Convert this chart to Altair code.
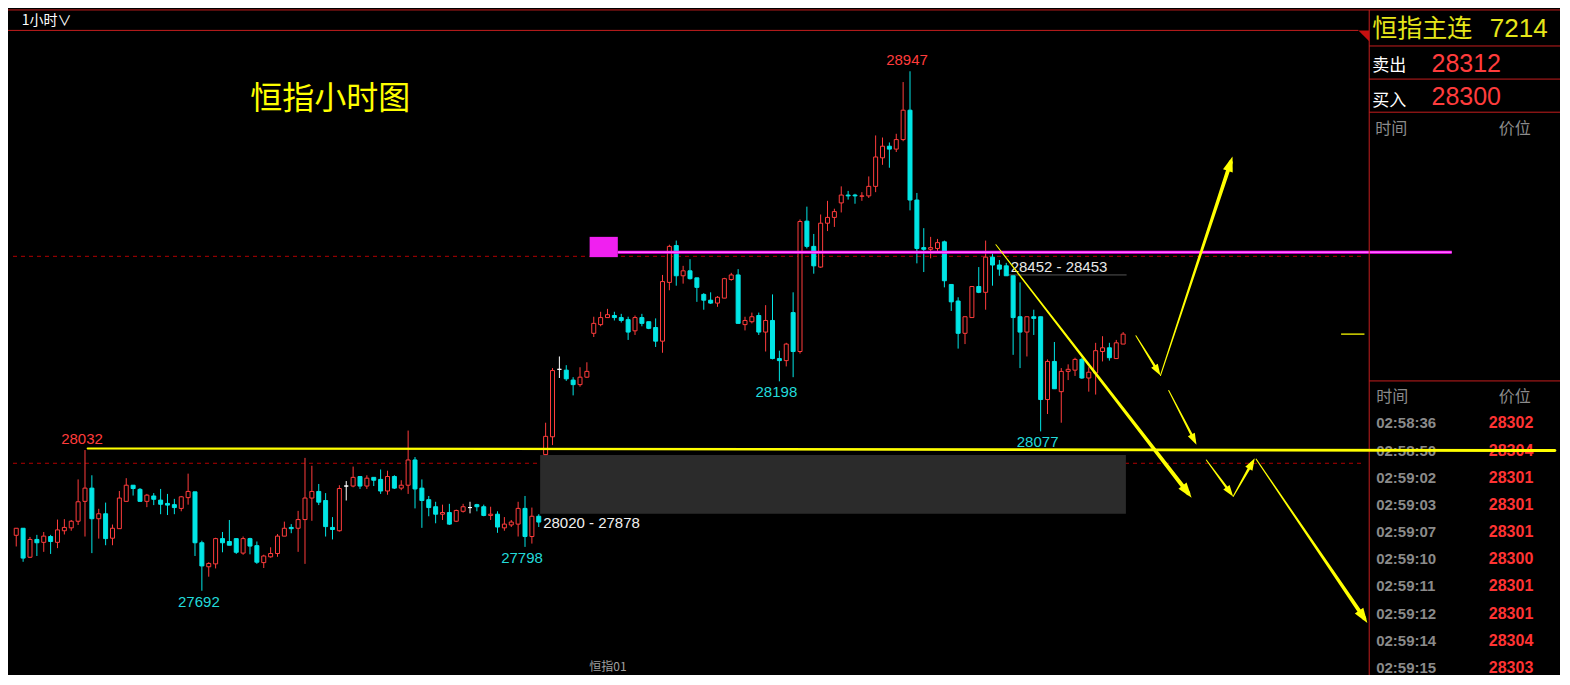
import altair as alt
import pandas as pd

W, H = 1552, 667
SX, SY = W / 1570.0, H / 685.0


def px(v):
    return v * SX


def py(v):
    return v * SY


# ---------------- hourly candles ----------------
opens = [27826, 27843, 27773, 27816, 27809, 27823, 27809, 27837, 27844, 27860,
         27908, 27940, 27866, 27878, 27819, 27842, 27908, 27947, 27937, 27908,
         27921, 27911, 27903, 27900, 27891, 27917, 27931, 27808, 27750, 27757,
         27818, 27811, 27818, 27783, 27818, 27801, 27760, 27774, 27782, 27824,
         27845, 27843, 27864, 27916, 27932, 27910, 27845, 27837, 27945, 27945,
         27968, 27945, 27966, 27961, 27933, 27968, 27940, 27947, 28008, 27940,
         27912, 27895, 27877, 27881, 27860, 27884, 27893, 27900, 27895, 27874,
         27877, 27844, 27851, 27853, 27891, 27823, 27872, 28021, 28064, 28227,
         28225, 28201, 28190, 28208, 28314, 28335, 28352, 28357, 28352, 28347,
         28320, 28352, 28342, 28328, 28295, 28437, 28526, 28453, 28465, 28448,
         28408, 28394, 28387, 28399, 28444, 28455, 28335, 28342, 28357, 28317,
         28345, 28253, 28248, 28364, 28270, 28585, 28524, 28474, 28580, 28594,
         28629, 28648, 28648, 28645, 28646, 28669, 28738, 28766, 28759, 28782,
         28853, 28636, 28521, 28517, 28519, 28535, 28432, 28392, 28314, 28352,
         28427, 28413, 28498, 28479, 28477, 28453, 28354, 28317, 28354, 28354,
         28154, 28246, 28173, 28222, 28225, 28251, 28206, 28218, 28270, 28279,
         28253, 28288]
highs = [27843, 27843, 27822, 27827, 27834, 27827, 27864, 27865, 27863, 27961,
         28032, 27971, 27890, 27905, 27852, 27933, 27964, 27947, 27940, 27926,
         27928, 27938, 27926, 27914, 27921, 27975, 27931, 27813, 27761, 27820,
         27834, 27863, 27818, 27823, 27820, 27811, 27779, 27797, 27829, 27859,
         27853, 27885, 28013, 27994, 27950, 27928, 27870, 27947, 27957, 27992,
         27968, 27971, 27966, 27985, 27982, 27971, 27959, 28079, 28015, 27961,
         27921, 27907, 27900, 27902, 27888, 27902, 27907, 27902, 27900, 27895,
         27884, 27870, 27863, 27907, 27921, 27893, 27877, 28098, 28230, 28258,
         28237, 28208, 28232, 28244, 28354, 28366, 28373, 28366, 28361, 28354,
         28357, 28361, 28342, 28350, 28455, 28528, 28538, 28477, 28493, 28448,
         28411, 28413, 28404, 28448, 28460, 28469, 28354, 28364, 28364, 28382,
         28408, 28272, 28291, 28413, 28589, 28620, 28554, 28601, 28634, 28615,
         28669, 28658, 28651, 28655, 28693, 28792, 28787, 28775, 28796, 28921,
         28947, 28653, 28568, 28547, 28542, 28538, 28432, 28401, 28354, 28427,
         28474, 28538, 28507, 28491, 28484, 28453, 28437, 28354, 28371, 28354,
         28251, 28293, 28230, 28239, 28255, 28255, 28232, 28291, 28307, 28291,
         28298, 28317]
lows = [27799, 27762, 27771, 27776, 27786, 27781, 27795, 27828, 27837, 27851,
        27823, 27783, 27818, 27802, 27802, 27842, 27908, 27922, 27908, 27894,
        27899, 27877, 27875, 27877, 27884, 27900, 27776, 27692, 27726, 27746,
        27785, 27802, 27781, 27779, 27780, 27757, 27747, 27772, 27774, 27824,
        27831, 27786, 27757, 27861, 27899, 27823, 27816, 27835, 27910, 27942,
        27938, 27938, 27945, 27926, 27924, 27938, 27935, 27926, 27891, 27844,
        27872, 27855, 27863, 27851, 27858, 27881, 27879, 27884, 27872, 27863,
        27832, 27837, 27846, 27823, 27798, 27806, 27846, 28021, 28044, 28206,
        28199, 28164, 28185, 28206, 28305, 28331, 28352, 28345, 28340, 28298,
        28310, 28331, 28324, 28281, 28267, 28418, 28429, 28434, 28444, 28390,
        28371, 28385, 28378, 28399, 28441, 28338, 28321, 28338, 28310, 28270,
        28251, 28198, 28234, 28208, 28265, 28519, 28458, 28472, 28561, 28571,
        28606, 28637, 28627, 28634, 28641, 28655, 28721, 28714, 28752, 28778,
        28611, 28483, 28462, 28495, 28509, 28425, 28368, 28277, 28288, 28352,
        28411, 28371, 28429, 28453, 28453, 28262, 28230, 28258, 28310, 28077,
        28119, 28180, 28098, 28201, 28211, 28204, 28173, 28166, 28246, 28248,
        28253, 28288]
closes = [27843, 27771, 27816, 27808, 27824, 27811, 27839, 27845, 27860, 27907,
          27940, 27866, 27878, 27818, 27843, 27916, 27947, 27939, 27908, 27923,
          27913, 27901, 27899, 27893, 27919, 27932, 27808, 27752, 27758, 27818,
          27808, 27802, 27785, 27818, 27800, 27761, 27776, 27782, 27824, 27843,
          27842, 27864, 27916, 27932, 27906, 27847, 27840, 27939, 27945, 27966,
          27945, 27964, 27959, 27933, 27968, 27940, 27947, 28008, 27938, 27910,
          27893, 27877, 27881, 27853, 27886, 27895, 27893, 27895, 27874, 27877,
          27846, 27853, 27858, 27891, 27823, 27872, 27858, 28065, 28224, 28227,
          28204, 28190, 28208, 28222, 28338, 28352, 28359, 28352, 28345, 28317,
          28352, 28338, 28326, 28295, 28439, 28524, 28453, 28465, 28446, 28425,
          28394, 28387, 28401, 28446, 28455, 28338, 28345, 28354, 28317, 28345,
          28253, 28248, 28288, 28270, 28584, 28524, 28477, 28580, 28594, 28608,
          28648, 28646, 28646, 28646, 28669, 28740, 28766, 28759, 28782, 28853,
          28636, 28519, 28517, 28521, 28533, 28441, 28390, 28314, 28354, 28427,
          28413, 28498, 28479, 28469, 28453, 28352, 28317, 28354, 28350, 28154,
          28246, 28180, 28222, 28227, 28251, 28206, 28220, 28272, 28279, 28255,
          28291, 28312]

# ---------------- annotations ----------------
dash_levels = [28500, 28000]
zone_top, zone_bottom = 28020, 27878
zone_label = "28020 - 27878"
resist_level = 28455
resist_label = "28452 - 28453"
magenta_level = 28510
magenta_box = [28547, 28498]
trend_i = [10.39, 223.8]
trend_p = [28036, 28031]

label_i = [130, 10, 27, 74, 111, 149]
label_text = ["28947", "28032", "27692", "27798", "28198", "28077"]
label_side = ["high", "high", "low", "low", "low", "low"]

arrow_seg = ["A", "A", "B1", "B1", "B2", "B2", "C", "C", "D1", "D1", "D2", "D2", "E", "E"]
arrow_i = [142.5, 170.44, 162.86, 165.99, 166.43, 176.64, 167.63, 171.29,
           173.1, 176.5, 177.0, 179.73, 180.34, 196.06]
arrow_p = [28528, 27928, 28308, 28224, 28212, 28727, 28176, 28058,
           28008, 27931, 27920, 28000, 28010, 27626]
arrow_w = [1, 4.2, 1, 2.6, 1, 4, 1, 2.6, 1, 2.6, 1, 3, 1, 4]
head_i = [170.96, 166.43, 176.91, 171.67, 177.0, 180.14, 196.53]
head_p = [27917, 28212, 28741, 28045, 27920, 28012, 27614]
head_angle = [142.6, 148.4, 18.1, 153.0, 143.9, 29.2, 146.1]
head_size = [900, 520, 900, 520, 520, 580, 900]

# side panel
contract_name = "恒指主连"
contract_vol = "7214"
quote_names = ["卖出", "买入"]
quote_prices = ["28312", "28300"]
tick_times = ["02:58:36", "02:58:50", "02:59:02", "02:59:03", "02:59:07",
              "02:59:10", "02:59:11", "02:59:12", "02:59:14", "02:59:15"]
tick_prices = ["28302", "28304", "28301", "28301", "28301",
               "28300", "28301", "28301", "28304", "28303"]
last_price = 28312

# ---------------- styles ----------------
RED = "#ff3c3c"
CYAN = "#00e5e5"
WHITE = "#ffffff"
YELLOW = "#ffff00"
BORDER = "#c41e1e"
CJK = "Noto Sans CJK SC"
NUM = "Liberation Sans"

xs = alt.Scale(domain=[-0.4714, 223.814], nice=False, zero=False)
ys = alt.Scale(domain=[27488.5, 29099.9], nice=False, zero=False)


def X(f):
    return alt.X(f, type="quantitative", scale=xs, axis=None)


def Y(f):
    return alt.Y(f, type="quantitative", scale=ys, axis=None)


one = pd.DataFrame({"a": [0]})
layers = []

# dashed level lines
dash_df = pd.DataFrame({"p": dash_levels, "x0": -0.47, "x1": 196.1})
layers.append(alt.Chart(dash_df).mark_rule(color="#b00000", strokeWidth=1, strokeDash=[4, 4]).encode(
    x=X("x0"), x2="x1", y=Y("p")))

# grey zone
zone_df = pd.DataFrame({"x0": [76.2], "x1": [161.4], "p0": [zone_top], "p1": [zone_bottom]})
layers.append(alt.Chart(zone_df).mark_rect(color="#2b2b2b").encode(
    x=X("x0"), x2="x1", y=Y("p0"), y2="p1"))

# resistance label line
res_df = pd.DataFrame({"x0": [144.2], "x1": [161.5], "p": [resist_level], "t": [resist_label]})
layers.append(alt.Chart(res_df).mark_rule(color="#555555", strokeWidth=1).encode(
    x=X("x0"), x2="x1", y=Y("p")))

# candles
n = len(opens)
df = pd.DataFrame({"i": list(range(n)), "o": opens, "h": highs, "l": lows, "c": closes})
df["kind"] = ["up" if c > o else ("down" if c < o else "flat") for o, c in zip(opens, closes)]
kinds = ["up", "down", "flat"]
layers.append(alt.Chart(df).mark_rule(strokeWidth=1).encode(
    x=X("i"), y=Y("l"), y2="h",
    color=alt.Color("kind:N", scale=alt.Scale(domain=kinds, range=[RED, CYAN, WHITE]), legend=None)))
layers.append(alt.Chart(df).mark_bar(size=4, strokeWidth=1).encode(
    x=X("i"), y=Y("o"), y2="c",
    fill=alt.Fill("kind:N", scale=alt.Scale(domain=kinds, range=["#000000", CYAN, WHITE]), legend=None),
    stroke=alt.Stroke("kind:N", scale=alt.Scale(domain=kinds, range=[RED, CYAN, WHITE]), legend=None)))

# magenta box + line
mag_df = pd.DataFrame({"x0": [83.4], "x1": [87.5], "p0": [magenta_box[0]], "p1": [magenta_box[1]]})
layers.append(alt.Chart(mag_df).mark_rect(color="#f020f0").encode(x=X("x0"), x2="x1", y=Y("p0"), y2="p1"))
magl_df = pd.DataFrame({"x0": [87.5], "x1": [208.8], "p": [magenta_level]})
layers.append(alt.Chart(magl_df).mark_rule(color="#ff00ff", strokeWidth=3).encode(x=X("x0"), x2="x1", y=Y("p")))
layers.append(alt.Chart(magl_df).mark_rule(color="#ffc8ff", strokeWidth=0.8).encode(x=X("x0"), x2="x1", y=Y("p")))

# price labels at extremes
lab = pd.DataFrame({"i": label_i, "t": label_text, "side": label_side})
lab["p"] = [highs[i] if s == "high" else lows[i] for i, s in zip(label_i, label_side)]
layers.append(alt.Chart(lab[lab.side == "high"]).mark_text(
    font=NUM, fontSize=15, color=RED, dy=-11, dx=-3).encode(x=X("i"), y=Y("p"), text="t:N"))
layers.append(alt.Chart(lab[lab.side == "low"]).mark_text(
    font=NUM, fontSize=15, color="#22dada", dy=11, dx=-3).encode(x=X("i"), y=Y("p"), text="t:N"))

# range labels
zl_df = pd.DataFrame({"x": [76.2], "p": [zone_bottom], "t": [zone_label]})
layers.append(alt.Chart(zl_df).mark_text(font=NUM, fontSize=15, color="#f0f0f0", align="left", dx=3, dy=9).encode(
    x=X("x"), y=Y("p"), text="t:N"))
layers.append(alt.Chart(res_df).mark_text(font=NUM, fontSize=15, color="#e8e8e8", align="left", dx=3, dy=-8).encode(
    x=X("x0"), y=Y("p"), text="t:N"))

# current price marker
cur_df = pd.DataFrame({"x0": [192.7], "x1": [196.1], "p": [last_price]})
layers.append(alt.Chart(cur_df).mark_rule(color="#d8d800", strokeWidth=1.5).encode(x=X("x0"), x2="x1", y=Y("p")))


# ---------------- frame / header / side panel ----------------
def rule_px(x0, x1, y0, y1, color=BORDER, width=1):
    return alt.Chart(one).mark_rule(color=color, strokeWidth=width).encode(
        x=alt.value(px(x0)), x2=alt.value(px(x1)), y=alt.value(py(y0)), y2=alt.value(py(y1)))


def text_px(t, x, y, size, color, font=CJK, weight="normal", align="left", baseline="middle"):
    return alt.Chart(pd.DataFrame({"t": [t]})).mark_text(
        font=font, fontSize=size, color=color, fontWeight=weight, align=align, baseline=baseline).encode(
        x=alt.value(px(x)), y=alt.value(py(y)), text="t:N")


layers.append(rule_px(0, 1570, 2, 2))
layers.append(rule_px(0, 1366, 23, 23))
layers.append(rule_px(1377, 1377, 2, 685))
for yy in [39, 73, 107, 383]:
    layers.append(rule_px(1377, 1570, yy, yy))
layers.append(alt.Chart(one).mark_point(shape="M0,0L-1,0L0,1Z", size=470, filled=True, color="#c81010",
                                        opacity=1, strokeWidth=0).encode(x=alt.value(px(1377)), y=alt.value(py(23))))

layers.append(text_px("1小时∨", 14, 13, 14, "#ffffff"))
layers.append(text_px("恒指小时图", 245, 93, 32, YELLOW))
layers.append(text_px("恒指01", 588, 684, 12, "#a0a0a0", baseline="bottom"))

layers.append(text_px(contract_name, 1380, 22, 25, "#e6e619"))
layers.append(text_px(contract_vol, 1499, 22, 26, "#e6e619", font=NUM))
for k, (nm, pr) in enumerate(zip(quote_names, quote_prices)):
    layers.append(text_px(nm, 1380, 60 + 35 * k, 17, "#ffffff"))
    layers.append(text_px(pr, 1440, 57 + 34.5 * k, 25, RED, font=NUM))
layers.append(text_px("时间", 1383, 124, 16, "#8c8c8c"))
layers.append(text_px("价位", 1508, 124, 16, "#8c8c8c"))
layers.append(text_px("时间", 1384, 400, 16, "#8c8c8c"))
layers.append(text_px("价位", 1508, 400, 16, "#8c8c8c"))

tick_df = pd.DataFrame({"t": tick_times, "p": tick_prices, "row": list(range(len(tick_times)))})
tick_df["ypx"] = [py(426.7 + 27.9 * r) for r in tick_df["row"]]
layers.append(alt.Chart(tick_df).mark_text(font=NUM, fontSize=15, fontWeight="bold", color="#8a8a8a",
                                           align="left", baseline="middle").encode(
    x=alt.value(px(1384)), y=alt.Y("ypx:Q", scale=None), text="t:N"))
layers.append(alt.Chart(tick_df).mark_text(font=NUM, fontSize=16, fontWeight="bold", color="#ff3333",
                                           align="right", baseline="middle").encode(
    x=alt.value(px(1543)), y=alt.Y("ypx:Q", scale=None), text="p:N"))

# ---------------- yellow drawings ----------------
trend_df = pd.DataFrame({"i": trend_i, "p": trend_p, "w": [2, 3], "seq": [0, 1]})
layers.append(alt.Chart(trend_df).mark_trail(color=YELLOW).encode(
    x=X("i"), y=Y("p"), size=alt.Size("w:Q", scale=None, legend=None), order="seq:Q"))

arr_df = pd.DataFrame({"seg": arrow_seg, "i": arrow_i, "p": arrow_p, "w": arrow_w,
                       "seq": list(range(len(arrow_i)))})
layers.append(alt.Chart(arr_df).mark_trail(color=YELLOW).encode(
    x=X("i"), y=Y("p"), size=alt.Size("w:Q", scale=None, legend=None), detail="seg:N", order="seq:Q"))

head_df = pd.DataFrame({"i": head_i, "p": head_p, "ang": head_angle, "s": head_size})
layers.append(alt.Chart(head_df).mark_point(shape="M0,0L-0.34,1L0.34,1Z", filled=True, color=YELLOW,
                                            opacity=1, strokeWidth=0).encode(
    x=X("i"), y=Y("p"), angle=alt.Angle("ang:Q", scale=None),
    size=alt.Size("s:Q", scale=None, legend=None)))

chart = alt.layer(*layers).properties(
    width=W, height=H, background="#000000", padding=0,
    autosize=alt.AutoSizeParams(type="none"),
).configure_view(strokeWidth=0)

chart.save("out.html", embed_options={"renderer": "svg", "actions": False})
